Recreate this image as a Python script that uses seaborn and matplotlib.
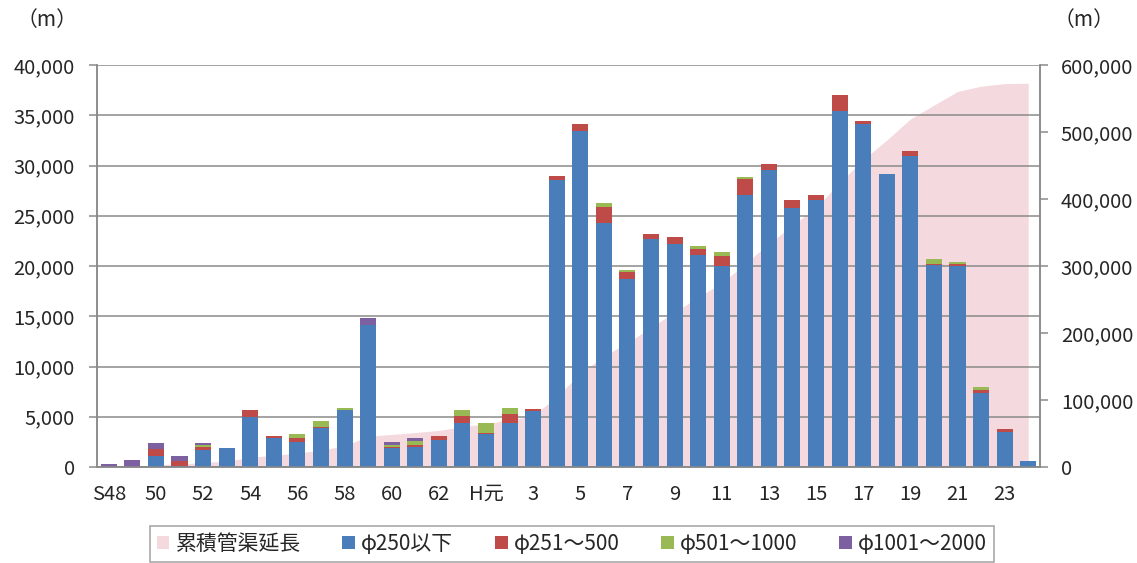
import numpy as np
import pandas as pd
import matplotlib
matplotlib.use("Agg")
import matplotlib.pyplot as plt
import seaborn as sns
from matplotlib.patches import Patch
from matplotlib.ticker import FuncFormatter

# fiscal years S48 .. S63, H1 .. H24
years = ["S48", "S49", "S50", "S51", "S52", "S53", "S54", "S55", "S56", "S57",
         "S58", "S59", "S60", "S61", "S62", "S63", "H元", "H2", "H3", "H4",
         "H5", "H6", "H7", "H8", "H9", "H10", "H11", "H12", "H13", "H14",
         "H15", "H16", "H17", "H18", "H19", "H20", "H21", "H22", "H23", "H24"]
tick_text = ["S48", "", "50", "", "52", "", "54", "", "56", "",
             "58", "", "60", "", "62", "", "H元", "", "3", "",
             "5", "", "7", "", "9", "", "11", "", "13", "",
             "15", "", "17", "", "19", "", "21", "", "23", ""]

# yearly pipe length by diameter (m)
d250 = [0, 0, 1100, 100, 1700, 1900, 5000, 2900, 2500, 3850,
        5700, 14100, 1850, 2000, 2700, 4400, 3250, 4400, 5600, 28600,
        33450, 24250, 18700, 22650, 22200, 21100, 20050, 27050, 29600, 25750,
        26550, 35450, 34100, 29150, 30950, 20100, 20000, 7330, 3510, 630]
d500 = [0, 0, 700, 450, 300, 0, 700, 150, 400, 150,
        0, 0, 150, 200, 400, 700, 100, 850, 150, 400,
        700, 1650, 700, 530, 650, 600, 950, 1570, 550, 850,
        500, 1560, 330, 0, 490, 150, 200, 330, 240, 0]
d1000 = [0, 0, 0, 0, 200, 0, 0, 0, 400, 600,
         200, 0, 200, 400, 0, 600, 1000, 600, 0, 0,
         0, 400, 200, 0, 0, 330, 420, 210, 0, 0,
         0, 0, 0, 0, 0, 450, 170, 330, 0, 0]
d2000 = [300, 650, 600, 500, 200, 0, 0, 50, 0, 0,
         0, 700, 250, 300, 0, 0, 0, 0, 0, 0,
         0, 0, 0, 0, 0, 0, 0, 0, 0, 0,
         0, 0, 0, 0, 0, 0, 0, 0, 0, 0]

# cumulative pipe length (m), right axis
cumulative = [300, 950, 3350, 4400, 6800, 8700, 14400, 17500, 20800, 25400,
              31300, 46100, 48550, 51450, 54550, 60250, 64600, 70450, 76200, 105200,
              139350, 165650, 185250, 208430, 231280, 253310, 274730, 303560, 333710, 360310,
              387360, 424370, 458800, 487950, 519390, 540090, 560460, 568450, 572200, 572830]

legend_labels = ["累積管渠延長", "φ250以下", "φ251～500", "φ501～1000", "φ1001～2000"]
colors = ["#f4d9de", "#4a7ebb", "#be4b48", "#98b954", "#7d60a0"]

sns.set_style("white")
plt.rcParams['font.family'] = ['Noto Sans CJK JP', 'DejaVu Sans']

df = pd.DataFrame({"year": years, "d250": d250, "d500": d500,
                   "d1000": d1000, "d2000": d2000})
df["s1"] = df["d250"]
df["s2"] = df["s1"] + df["d500"]
df["s3"] = df["s2"] + df["d1000"]
df["s4"] = df["s3"] + df["d2000"]

fig = plt.figure(figsize=(11.37, 5.63), dpi=100)
ax = fig.add_axes([0.0853, 0.1705, 0.8294, 0.714])
ax2 = ax.twinx()

x = np.arange(len(years))
ax2.fill_between(x, cumulative, color=colors[0], lw=0)
ax2.set_ylim(0, 600000)

ax.set_zorder(ax2.get_zorder() + 1)
ax.patch.set_visible(False)

# overlapping bars, tallest stack first
for col, c in [("s4", colors[4]), ("s3", colors[3]), ("s2", colors[2]), ("s1", colors[1])]:
    sns.barplot(data=df, x="year", y=col, order=years, color=c, saturation=1,
                width=0.68, errorbar=None, linewidth=0, edgecolor="none", ax=ax)

ax.set_ylim(0, 40000)
ax.set_xlim(-0.5, len(years) - 0.5)
ax.set_yticks(np.arange(0, 40001, 5000))
ax.yaxis.set_major_formatter(FuncFormatter(lambda v, p: f"{int(v):,}"))
ax2.set_yticks(np.arange(0, 600001, 100000))
ax2.yaxis.set_major_formatter(FuncFormatter(lambda v, p: f"{int(v):,}"))
ax.set_xticks(x)
ax.set_xticklabels(tick_text)
ax.set_xticks(np.arange(-0.5, len(years)), minor=True)
ax.set_xlabel("")
ax.set_ylabel("")

ax.set_axisbelow(True)
ax.yaxis.grid(True, color="#8a8a8a", lw=1.1)
ax.tick_params(axis="x", which="major", length=0, labelsize=14.5, pad=12)
ax.tick_params(axis="x", which="minor", length=6, color="#8a8a8a", width=1.1)
ax.tick_params(axis="y", length=6, color="#8a8a8a", width=1.1, labelsize=14.5, pad=10)
ax2.tick_params(axis="y", length=6, color="#8a8a8a", width=1.1, labelsize=14.5, pad=9)

for a in (ax, ax2):
    a.spines["top"].set_visible(False)
    for s in ("left", "right", "bottom"):
        a.spines[s].set_color("#8a8a8a")
        a.spines[s].set_linewidth(1.1)

fig.text(0.041, 0.965, "（m）", fontsize=15, ha="center", va="center")
fig.text(0.953, 0.965, "（m）", fontsize=15, ha="center", va="center")

handles = [Patch(facecolor=c, edgecolor="none") for c in colors]
leg = fig.legend(handles, legend_labels, loc="upper center", bbox_to_anchor=(0.503, 0.066),
                 ncol=5, fontsize=15, frameon=True, fancybox=False, handlelength=0.6,
                 handleheight=0.6, handletextpad=0.3, columnspacing=2.0,
                 borderpad=0.35, borderaxespad=0)
leg.get_frame().set_edgecolor("#8a8a8a")
leg.get_frame().set_linewidth(1.1)

fig.savefig("out.png", dpi=100)
